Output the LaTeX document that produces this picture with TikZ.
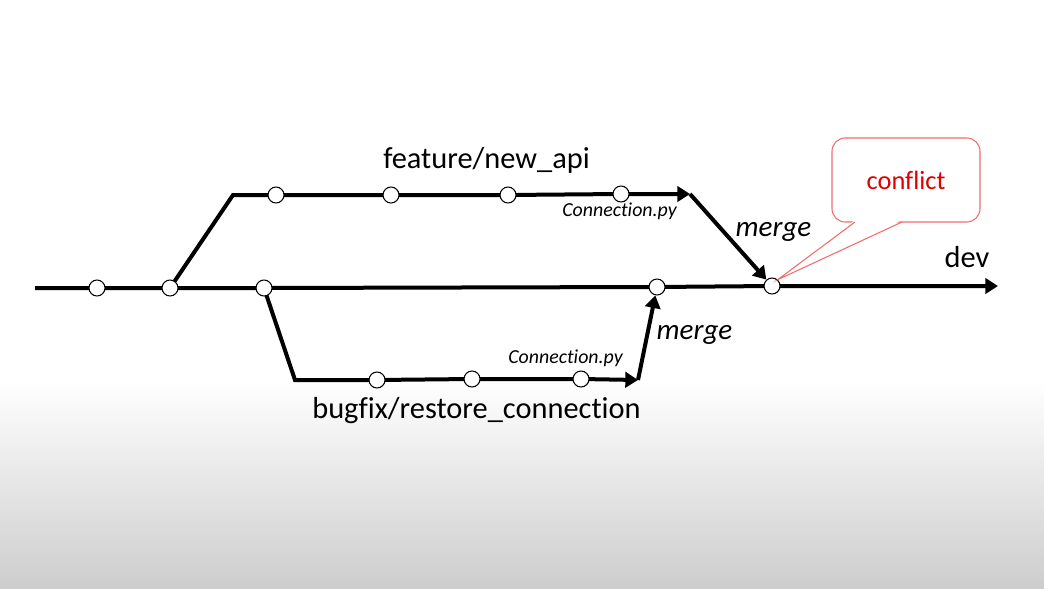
\documentclass[tikz,border=0pt]{standalone}
\usepackage{fontspec}
\setmainfont{Carlito}[Ligatures=NoCommon]
\usetikzlibrary{arrows.meta}
\pgfdeclarelayer{bg}
\pgfdeclarelayer{edges}
\pgfsetlayers{bg,edges,main}
\definecolor{calloutred}{RGB}{240,110,110}
\definecolor{conflictred}{RGB}{220,0,0}
\definecolor{bottomgray}{RGB}{205,205,205}
\tikzset{
  commit/.style={circle,draw=black,line width=0.8pt,fill=white,minimum size=12pt,inner sep=0pt},
  branch/.style={line width=3pt,draw=black},
  arr/.style={branch,-{Triangle[length=9.5pt,width=11.5pt]}},
  lbl/.style={anchor=base,inner sep=0pt,font=\fontsize{22.8}{27}\selectfont},
  lblit/.style={anchor=base,inner sep=0pt,font=\fontsize{21.8}{26}\selectfont\itshape},
  small/.style={anchor=base,inner sep=0pt,font=\fontsize{14.9}{18}\selectfont\itshape},
  calloutbox/.style={draw=calloutred,line width=0.8pt,fill=white,rounded corners=10pt,
     minimum width=111pt,minimum height=63pt,inner sep=0pt,text=conflictred,
     font=\fontsize{19.8}{24}\selectfont},
  calloutline/.style={draw=calloutred,line width=0.8pt}
}
\begin{document}
\begin{tikzpicture}[x=0.75pt,y=-0.75pt]
\begin{pgfonlayer}{bg}
  \fill[white] (0,0) rectangle (1044,380);
  \shade[top color=white,bottom color=bottomgray] (0,380) rectangle (1044,588);
\end{pgfonlayer}
\useasboundingbox (0,0) rectangle (1044,588);

% commits on dev
\node[commit] (c1) at (97,288) {};
\node[commit] (c2) at (170,288) {};
\node[commit] (c3) at (264,288) {};
\node[commit] (m1) at (657,287) {};
\node[commit] (m2) at (772,286) {};
% feature commits
\node[commit] (f1) at (276,195) {};
\node[commit] (f2) at (391,195) {};
\node[commit] (f3) at (508,195) {};
\node[commit] (f4) at (621,194) {};
% bugfix commits
\node[commit] (b1) at (377,380) {};
\node[commit] (b2) at (472,379) {};
\node[commit] (b3) at (581,379) {};

\coordinate (start) at (35,288);
\coordinate (devend) at (998,286);
\coordinate (fk) at (233,195);
\coordinate (fend) at (690,194);
\coordinate (bk) at (295,380);
\coordinate (bend) at (638,380);

\begin{pgfonlayer}{edges}
  \draw[arr] (start) -- (c1.center) -- (c2.center) -- (c3.center) -- (m1.center) -- (m2.center) -- (devend);
  \draw[arr] (c2.center) -- (fk) -- (f1.center) -- (f2.center) -- (f3.center) -- (f4.center) -- (fend);
  \draw[arr] (fend) -- (m2);
  \draw[arr] (c3.center) -- (bk) -- (b1.center) -- (b2.center) -- (b3.center) -- (bend);
  \draw[arr] (bend) -- (m1);
\end{pgfonlayer}

% labels
\node[lbl] (lf) at (486.5,168) {feature/new\_api};
\node[lbl] (lb) at (476.5,418) {bugfix/restore\_connection};
\node[lbl] (ldev) at (967,267) {dev};
\node[small] (cp1) at (619.5,216) {Connection.py};
\node[small] (cp2) at (565.5,363) {Connection.py};
\node[lblit] (mg1) at (773.5,236) {merge};
\node[lblit] (mg2) at (694.5,339) {merge};

% callout
\node[calloutbox] (cf) at (906,180) {conflict};
\coordinate (pl) at (855,222);
\coordinate (pr) at (902,222);
\fill[white] ([yshift=1.5pt]pl) -- (m2.48) -- ([yshift=1.5pt]pr) -- cycle;
\draw[calloutline] (pl) -- (m2.48) -- (pr);
\end{tikzpicture}
\end{document}
